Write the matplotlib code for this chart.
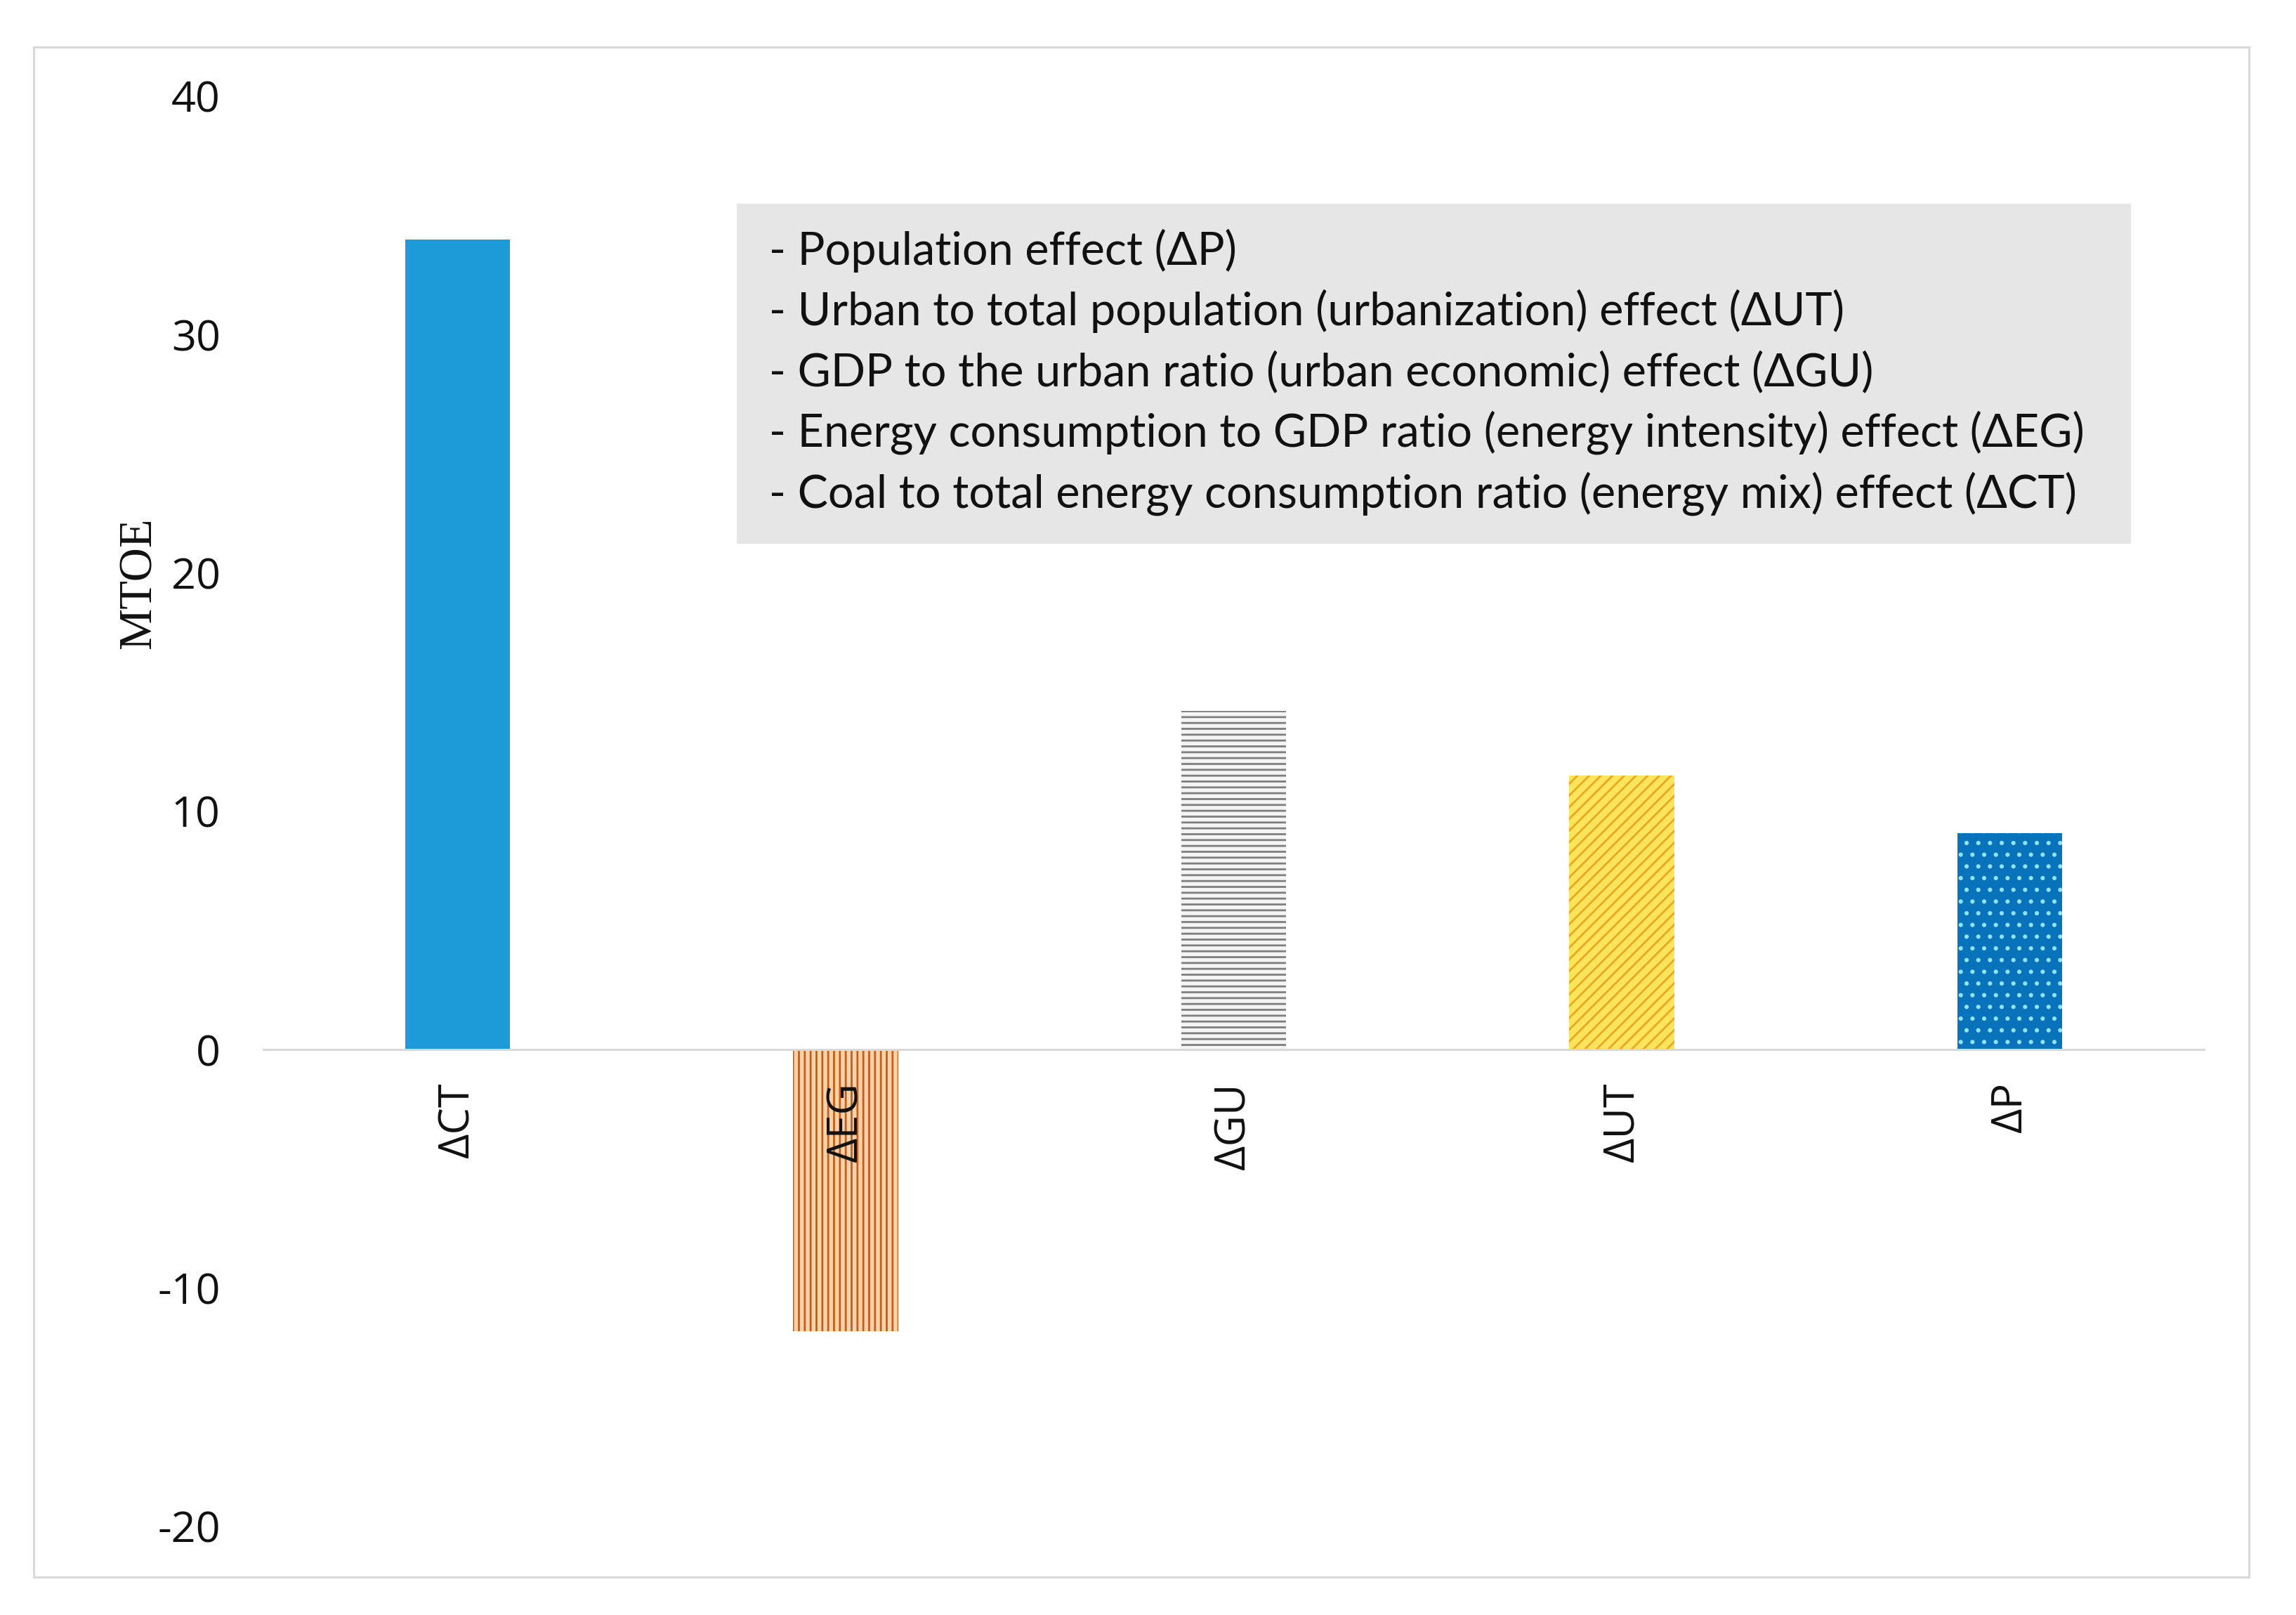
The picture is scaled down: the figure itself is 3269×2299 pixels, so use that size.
import matplotlib
matplotlib.use('Agg')
import matplotlib.pyplot as plt
from matplotlib.patches import Rectangle

# ---- data ----
categories = ['ΔCT', 'ΔEG', 'ΔGU', 'ΔUT', 'ΔP']
values = [34.0, -11.8, 14.2, 11.5, 9.1]
y_ticks = [-20, -10, 0, 10, 20, 30, 40]
y_label = 'MTOE'
legend_lines = [
    '- Population effect (ΔP)',
    '- Urban to total population (urbanization) effect (ΔUT)',
    '- GDP to the urban ratio (urban economic) effect (ΔGU)',
    '- Energy consumption to GDP ratio (energy intensity) effect (ΔEG)',
    '- Coal to total energy consumption ratio (energy mix) effect (ΔCT)',
]

# ---- styles ----
bar_styles = [
    dict(face='#1C9BD8', edge='#1C9BD8', hatch=None),
    dict(face='#FAD2A8', edge='#BF6020', hatch='||'),
    dict(face='#F4F4F4', edge='#7F7F7F', hatch='--'),
    dict(face='#FFE45C', edge='#E8A820', hatch='//'),
    dict(face='#0872BA', edge='#8FE3FF', hatch='.'),
]

plt.rcParams['axes.unicode_minus'] = False
plt.rcParams['hatch.linewidth'] = 2.0

W, H = 3269, 2299
fig = plt.figure(figsize=(W / 100, H / 100), dpi=100)
fig.patch.set_facecolor('white')

ax = fig.add_axes([375 / W, 1 - 2173 / H, (3138 - 375) / W, (2173 - 137) / H])
ax.set_facecolor('none')

x = list(range(len(categories)))
bars = ax.bar(x, values, width=0.27, zorder=1)
for b, st in zip(bars, bar_styles):
    b.set_facecolor(st['face'])
    b.set_edgecolor(st['edge'])
    b.set_linewidth(0)
    if st['hatch']:
        b.set_hatch(st['hatch'])

for s in ['left', 'top', 'right']:
    ax.spines[s].set_visible(False)
ax.spines['bottom'].set_position(('data', 0))
ax.spines['bottom'].set_color('#D9D9D9')
ax.spines['bottom'].set_linewidth(2.2)

ax.set_xlim(-0.5, len(categories) - 0.5)
ax.set_ylim(-20, 40)
ax.set_yticks(y_ticks)
ax.set_yticklabels([str(v) for v in y_ticks])
ax.set_xticks(x)
ax.set_xticklabels(categories)

tick_font = ['Open Sans', 'DejaVu Sans']
ax.tick_params(axis='x', length=0, pad=33, labelsize=44, labelcolor='#111111',
               labelrotation=90)
ax.tick_params(axis='y', length=0, pad=44, labelsize=44, labelcolor='#111111')
for lab in ax.get_xticklabels() + ax.get_yticklabels():
    lab.set_family(tick_font)

fig.text(198 / W, 1 - 830 / H, y_label, rotation=90, ha='center', va='center',
         fontsize=48, family=['Liberation Serif', 'DejaVu Serif'], color='#111111')

# outer border
fig.patches.append(Rectangle((48 / W, 1 - 2245 / H), (3202 - 48) / W, (2245 - 67) / H,
                             transform=fig.transFigure, fill=False,
                             edgecolor='#D9D9D9', linewidth=2.2))

# legend text box
fig.patches.append(Rectangle((1049 / W, 1 - 774 / H), (3034 - 1049) / W, (774 - 290) / H,
                             transform=fig.transFigure, facecolor='#E7E6E6',
                             edgecolor='none', zorder=0.5))
line_y = [357, 443, 530, 616, 703]
box_font = ['Lato', 'DejaVu Sans']
texts = []
for yy, s in zip(line_y, legend_lines):
    t = fig.text(1095 / W, 1 - yy / H, s, ha='left', va='center', fontsize=44,
                 family=box_font, color='#111111')
    texts.append(t)

# fit the longest line to the reference width
fig.canvas.draw()
r = fig.canvas.get_renderer()
wmax = max(t.get_window_extent(r).width for t in texts)
target = 2969 - 1095
scale = target / wmax
for t in texts:
    t.set_fontsize(44 * scale)

fig.savefig('out.png', dpi=100)
